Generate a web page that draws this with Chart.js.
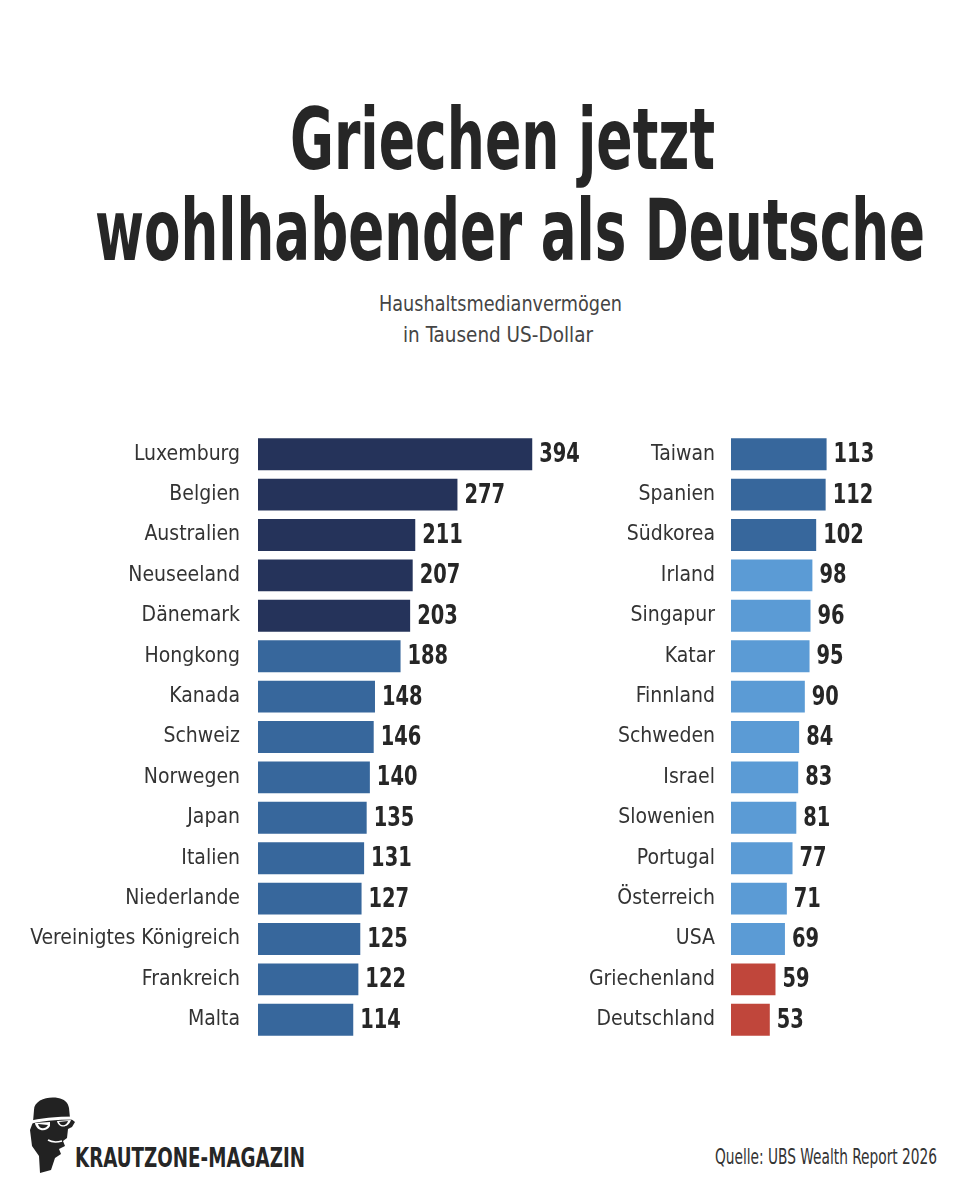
<!DOCTYPE html>
<html lang="de">
<head>
<meta charset="utf-8">
<title>Griechen jetzt wohlhabender als Deutsche</title>
<script src="https://cdn.jsdelivr.net/npm/chart.js@4"></script>
<style>
  html, body { margin: 0; padding: 0; background: #fff; }
  body { width: 965px; height: 1200px; position: relative; overflow: hidden;
         font-family: 'Liberation Sans Narrow', 'DejaVu Sans Condensed', sans-serif; color: #222; }
  .txt { position: absolute; white-space: nowrap; transform-origin: 0 0; }
  .title { font-weight: bold; font-size: 85px; line-height: 85px; color: #262626; }
  .sub { font-size: 21px; line-height: 21px; color: #444; }
  .brand { font-weight: bold; font-size: 27px; line-height: 27px; color: #262626; }
  .source { font-size: 21px; line-height: 21px; color: #333; }
  .chart { position: absolute; }
  .logo { position: absolute; left: 28px; top: 1096px; }
</style>
</head>
<body>

<div class="txt title" style="left:290px;top:97px" data-w="425">Griechen jetzt</div>
<div class="txt title" style="left:95px;top:188px" data-w="830">wohlhabender als Deutsche</div>
<div class="txt sub" style="left:379px;top:294px" data-w="243">Haushaltsmedianvermögen</div>
<div class="txt sub" style="left:403px;top:325px" data-w="190">in Tausend US-Dollar</div>

<div class="chart" style="left:0;top:434px;width:600px;height:606px"><canvas id="left"></canvas></div>
<div class="chart" style="left:480px;top:434px;width:410px;height:606px"><canvas id="right"></canvas></div>

<svg class="logo" width="50" height="78" viewBox="0 0 50 78">
  <path d="M6,14 C6,4 20,0 30,2 C36,3 40,6 41,12 L42,22 L47,26 L44,31 L40,33 L39,42 L35,45 L37,50 L31,53 L33,58 L27,62 L23,74 L12,77 L11,60 L4,50 L2,34 L5,26 Z" fill="#222"/>
  <path d="M0,27 C10,24 30,22 48,22" stroke="#fff" stroke-width="3" fill="none"/>
  <path d="M7,27 C8,35 18,37 22,30 L22,26 Z" fill="#fff"/>
  <path d="M29,25 C30,32 40,33 43,24 Z" fill="#fff"/>
  <path d="M10,28 C11,33 17,34 20,29 Z" fill="#222"/>
  <path d="M31,26 C32,30 38,31 40,25 Z" fill="#222"/>
  <path d="M20,44 C25,47 30,46 34,45" stroke="#fff" stroke-width="1.5" fill="none"/>
</svg>
<div class="txt brand" style="left:75px;top:1144px" data-w="230">KRAUTZONE-MAGAZIN</div>
<div class="txt source" style="left:715px;top:1147px" data-w="222">Quelle: UBS Wealth Report 2026</div>

<script>
// Haushaltsmedianvermögen, Tausend US-Dollar
const leftCountries = ['Luxemburg', 'Belgien', 'Australien', 'Neuseeland', 'Dänemark', 'Hongkong',
  'Kanada', 'Schweiz', 'Norwegen', 'Japan', 'Italien', 'Niederlande', 'Vereinigtes Königreich',
  'Frankreich', 'Malta'];
const leftValues = [394, 277, 211, 207, 203, 188, 148, 146, 140, 135, 131, 127, 125, 122, 114];

const rightCountries = ['Taiwan', 'Spanien', 'Südkorea', 'Irland', 'Singapur', 'Katar', 'Finnland',
  'Schweden', 'Israel', 'Slowenien', 'Portugal', 'Österreich', 'USA', 'Griechenland', 'Deutschland'];
const rightValues = [113, 112, 102, 98, 96, 95, 90, 84, 83, 81, 77, 71, 69, 59, 53];

const highlighted = ['Griechenland', 'Deutschland'];

const FONT = "'Liberation Sans Narrow', 'DejaVu Sans Condensed', sans-serif";

// squeeze the html text to the condensed widths of the original
document.querySelectorAll('[data-w]').forEach(el => {
    const w = el.getBoundingClientRect().width;
    el.style.transform = `scaleX(${el.dataset.w / w})`;
});

function barColor(name, v) {
    if (highlighted.includes(name)) return '#c0463b';
    if (v >= 200) return '#25335a';
    if (v >= 100) return '#37679c';
    return '#5b9bd5';
}

const valueLabels = {
    id: 'valueLabels',
    afterDatasetsDraw(chart) {
        const ctx = chart.ctx;
        const ds = chart.data.datasets[0];
        const meta = chart.getDatasetMeta(0);
        ctx.save();
        ctx.font = 'bold 27px ' + FONT;
        ctx.fillStyle = '#262626';
        ctx.textAlign = 'left';
        ctx.textBaseline = 'middle';
        meta.data.forEach((bar, i) => {
            ctx.save();
            ctx.translate(bar.x + 7, bar.y + 1);
            ctx.scale(0.8, 1);
            ctx.fillText(String(ds.data[i]), 0, 0);
            ctx.restore();
        });
        ctx.restore();
    }
};

function makeChart(id, labels, values, xMin, xMax, axisWidth, pad) {
    return new Chart(document.getElementById(id), {
        type: 'bar',
        data: {
            labels: labels,
            datasets: [{
                data: values,
                backgroundColor: labels.map((n, i) => barColor(n, values[i])),
                base: xMin,
                barPercentage: 0.79,
                categoryPercentage: 1
            }]
        },
        options: {
            indexAxis: 'y',
            responsive: true,
            maintainAspectRatio: false,
            animation: false,
            layout: { padding: 0 },
            scales: {
                x: { min: xMin, max: xMax, display: false },
                y: {
                    grid: { display: false },
                    border: { display: false },
                    ticks: {
                        color: '#333',
                        padding: pad,
                        font: { family: FONT, size: 21 }
                    },
                    afterFit: (scale) => {
                        scale.width = axisWidth;
                        scale.paddingTop = 0;
                        scale.paddingBottom = 0;
                    }
                }
            },
            plugins: {
                legend: { display: false },
                tooltip: { enabled: false }
            }
        },
        plugins: [valueLabels]
    });
}

makeChart('left', leftCountries, leftValues, -35, 500, 258, 10);
makeChart('right', rightCountries, rightValues, 12, 180, 251, 8);
</script>
</body>
</html>
